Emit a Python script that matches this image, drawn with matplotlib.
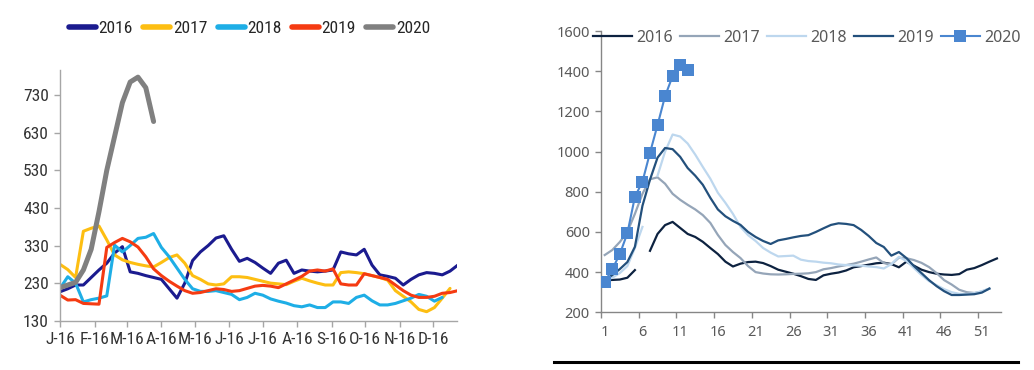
# weekly prices, two panels side by side
import numpy as np
import matplotlib.pyplot as plt
from matplotlib.lines import Line2D
from matplotlib import font_manager

# ----- left panel data (weekly values, x = day of year) -----
left_2016 = [207, 215, 225, 225, 245, 265, 283, 310, 327, 260, 256, 250, 245, 240,
             215, 190, 230, 290, 313, 330, 350, 356, 320, 288, 296, 285, 270, 256,
             283, 291, 256, 265, 262, 260, 262, 265, 313, 308, 305, 320, 278, 252,
             248, 243, 225, 240, 252, 258, 256, 252, 262, 278]
left_2017 = [280, 266, 245, 368, 376, 382, 345, 305, 292, 285, 280, 276, 273, 285,
             298, 305, 283, 250, 240, 228, 225, 228, 247, 247, 245, 240, 235, 230,
             228, 226, 235, 243, 236, 230, 225, 225, 258, 260, 258, 255, 250, 245,
             238, 210, 195, 180, 160, 154, 165, 190, 216]
left_2018 = [216, 247, 230, 180, 186, 190, 196, 331, 313, 330, 349, 352, 362, 325,
             300, 270, 240, 215, 208, 208, 210, 205, 200, 186, 192, 203, 198, 188,
             182, 177, 170, 167, 172, 165, 165, 180, 180, 176, 192, 198, 183, 172,
             172, 176, 183, 190, 200, 195, 182, 192]
left_2019 = [198, 185, 186, 176, 175, 174, 325, 338, 349, 340, 326, 300, 268, 250,
             235, 222, 210, 203, 205, 210, 215, 213, 208, 210, 216, 222, 224, 222,
             218, 228, 238, 248, 262, 265, 262, 268, 228, 225, 225, 255, 250, 245,
             240, 225, 210, 198, 192, 192, 195, 203, 205, 210]
left_2020 = [218, 225, 232, 265, 320, 420, 530, 620, 710, 765, 778, 750, 660]

month_days = [0, 31, 60, 91, 121, 152, 182, 213, 244, 274, 305, 335]
month_labels = ['J-16', 'F-16', 'M-16', 'A-16', 'M-16', 'J-16',
                'J-16', 'A-16', 'S-16', 'O-16', 'N-16', 'D-16']
left_yticks = [130, 230, 330, 430, 530, 630, 730]

# ----- right panel data (week number 1..53), nan = no data -----
nan = np.nan
right_2016 = [360, 361, 363, 372, 410, nan, 506, 590, 634, 650, 620, 590, 575, 551,
              520, 490, 452, 428, 442, 450, 452, 445, 430, 412, 402, 392, 380, 366,
              361, 384, 392, 398, 408, 424, 430, 437, 444, 447, 440, 424, 452, 432,
              412, 400, 392, 388, 386, 390, 412, 420, 435, 452, 468]
right_2017 = [485, 510, 550, 600, 690, 790, 862, 872, 840, 790, 760, 735, 712, 684,
              645, 585, 535, 500, 470, 430, 400, 393, 389, 388, 389, 391, 392, 394,
              400, 414, 420, 428, 435, 442, 452, 463, 473, 445, 438, 472, 469, 460,
              446, 425, 395, 360, 338, 312, 300, 296, 303, 318]
right_2018 = [360, 372, 395, 430, 520, 625, nan, 880, 1000, 1085, 1075, 1040, 985, 924,
              865, 795, 745, 690, 625, 584, 555, 520, 497, 478, 480, 482, 462, 455,
              452, 447, 444, 438, 435, 433, 432, 428, 425, 418, 440, 476, 455, 420,
              385, 355, 335, 315, 300, 292, 291, 295, 305, 318]
right_2019 = [360, 385, 415, 450, 526, 730, 860, 970, 1018, 1012, 974, 918, 880, 835,
              770, 712, 678, 655, 635, 600, 575, 555, 540, 558, 565, 573, 580, 584,
              600, 618, 635, 643, 640, 634, 610, 580, 545, 525, 482, 500, 470, 430,
              395, 360, 330, 305, 286, 286, 288, 290, 298, 318]
right_2020 = [352, 414, 490, 593, 775, 850, 994, 1132, 1276, 1376, 1430, 1405]

# colours
left_colors = ['#1b1b8f', '#fdbe12', '#1eaee6', '#f53b12', '#808080']
right_colors = ['#0d2240', '#95a5b8', '#bdd7ee', '#23507c', '#4a86d0']

# pick a narrow font for the left chart if one is installed
installed = font_manager.fontManager.ttflist
names = {f.name for f in installed}
narrow_props = None
for cand in ['Liberation Sans Narrow', 'Roboto Condensed', 'Arial Narrow']:
    if cand in names:
        narrow_props = dict(family=cand, stretch='normal')
        left_size = 12.5
        break
if narrow_props is None:
    if any(f.name == 'DejaVu Sans' and f.stretch == 'condensed' for f in installed):
        narrow_props = dict(family='DejaVu Sans', stretch='condensed')
        left_size = 11.0
    else:
        narrow_props = dict(family='Roboto', stretch='normal')
        left_size = 10.5

fig = plt.figure(figsize=(10.34, 3.70), dpi=100)

# ================= left panel =================
ax1 = fig.add_axes([0.058, 0.1332, 0.3837, 0.6776])
left_series = [left_2016, left_2017, left_2018, left_2019, left_2020]
for name, vals, col in zip(['2016', '2017', '2018', '2019', '2020'], left_series, left_colors):
    days = 7 * np.arange(len(vals))
    lw = 3.6 if name == '2020' else 2.2
    ax1.plot(days, vals, color=col, lw=lw, label=name, solid_capstyle='round')

ax1.set_xlim(0, 356)
ax1.set_ylim(130, 797)
ax1.set_xticks(month_days)
ax1.set_xticklabels(month_labels)
ax1.set_yticks(left_yticks)
for s in ['top', 'right']:
    ax1.spines[s].set_visible(False)
for s in ['left', 'bottom']:
    ax1.spines[s].set_color('#a6a6a6')
    ax1.spines[s].set_linewidth(1.0)
ax1.tick_params(axis='both', colors='#a6a6a6', length=4, width=1.0,
                labelcolor='#333333', labelsize=left_size, pad=4)
for t in ax1.get_xticklabels() + ax1.get_yticklabels():
    t.set_family(narrow_props['family'])
    t.set_stretch(narrow_props['stretch'])

leg1 = ax1.legend(loc='center', bbox_to_anchor=(0.478, 1.1675), ncol=5, frameon=False,
                  handlelength=1.55, handletextpad=0.15, columnspacing=0.6,
                  prop={'family': narrow_props['family'], 'stretch': narrow_props['stretch'],
                        'size': left_size})
for t in leg1.get_texts():
    t.set_color('#262626')
for h in leg1.legend_handles:
    h.set_linewidth(4)

# ================= right panel =================
ax2 = fig.add_axes([0.5812, 0.156, 0.3866, 0.760])
right_series = [right_2016, right_2017, right_2018, right_2019, right_2020]
for name, vals, col in zip(['2016', '2017', '2018', '2019', '2020'], right_series, right_colors):
    weeks = np.arange(1, len(vals) + 1)
    if name == '2020':
        ax2.plot(weeks, vals, color=col, lw=1.5, marker='s', markersize=8,
                 markeredgewidth=0, label=name, zorder=5)
    else:
        ax2.plot(weeks, vals, color=col, lw=1.6, label=name)

ax2.set_xlim(0.5, 53.5)
ax2.set_ylim(200, 1600)
ax2.set_yticks(range(200, 1601, 200))
# category style axis: labels at week centres, tick marks between categories
ax2.set_xticks(range(1, 53, 5))
ax2.set_xticks(np.arange(0.5, 53, 5), minor=True)
ax2.tick_params(axis='x', which='major', length=0, pad=9)
ax2.tick_params(axis='x', which='minor', length=4, width=1.0, color='#868686')
ax2.tick_params(axis='y', length=4, width=1.0, color='#868686', pad=4)
ax2.tick_params(axis='both', labelcolor='#595959', labelsize=10.5)
for s in ['top', 'right']:
    ax2.spines[s].set_visible(False)
for s in ['left', 'bottom']:
    ax2.spines[s].set_color('#868686')
    ax2.spines[s].set_linewidth(1.0)
for t in ax2.get_xticklabels() + ax2.get_yticklabels():
    t.set_family('Noto Sans')

leg2 = ax2.legend(loc='center', bbox_to_anchor=(0.515, 0.976), ncol=5, frameon=False,
                  handlelength=2.45, handletextpad=0.25, columnspacing=0.45,
                  prop={'family': 'Noto Sans', 'size': 11.5})
for t in leg2.get_texts():
    t.set_color('#595959')

# black rule under the right chart
fig.add_artist(Line2D([554 / 1034, 1018 / 1034], [1 - 361.7 / 370, 1 - 361.7 / 370],
                      color='black', lw=2.2))

plt.savefig('out.png', dpi=100)
